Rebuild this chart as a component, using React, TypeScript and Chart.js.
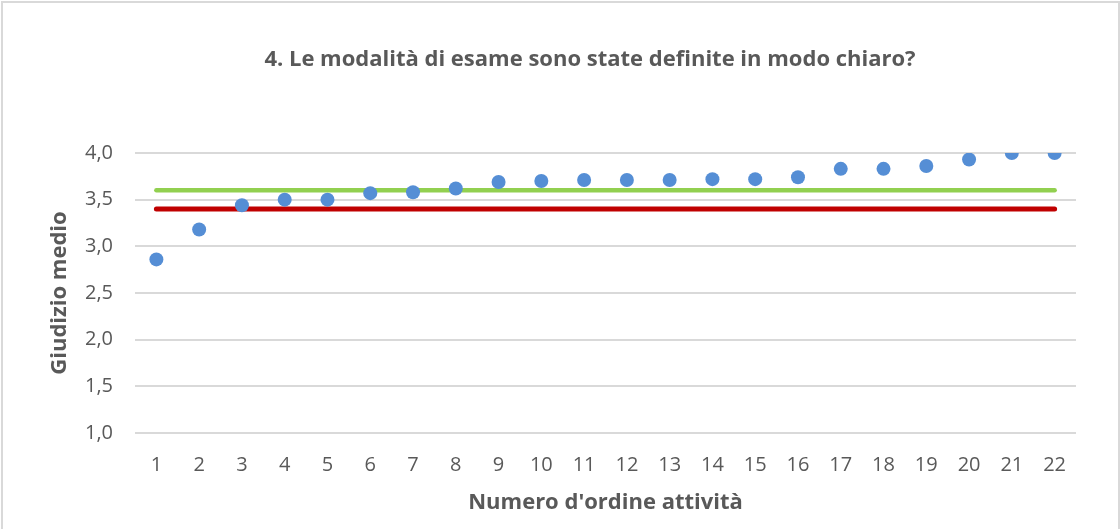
import React, { useEffect, useRef } from "react";
import { Chart, registerables } from "chart.js";

Chart.register(...registerables);

const categories = ["1","2","3","4","5","6","7","8","9","10","11","12","13","14","15","16","17","18","19","20","21","22"];
const giudizioMedio = [2.86, 3.18, 3.44, 3.50, 3.50, 3.57, 3.58, 3.62, 3.69, 3.70, 3.71, 3.71, 3.71, 3.72, 3.72, 3.74, 3.83, 3.83, 3.86, 3.93, 4.00, 4.00];
const sogliaVerde = [3.6, 3.6, 3.6, 3.6, 3.6, 3.6, 3.6, 3.6, 3.6, 3.6, 3.6, 3.6, 3.6, 3.6, 3.6, 3.6, 3.6, 3.6, 3.6, 3.6, 3.6, 3.6];
const sogliaRossa = [3.4, 3.4, 3.4, 3.4, 3.4, 3.4, 3.4, 3.4, 3.4, 3.4, 3.4, 3.4, 3.4, 3.4, 3.4, 3.4, 3.4, 3.4, 3.4, 3.4, 3.4, 3.4];
const yTicks = [1.0, 1.5, 2.0, 2.5, 3.0, 3.5, 4.0];

const titleText = "4. Le modalità di esame sono state definite in modo chiaro?";
const xTitle = "Numero d'ordine attività";
const yTitle = "Giudizio medio";

const FONT = "'Open Sans', sans-serif";
const TXT = "#595959";

export default function App() {
  const ref = useRef<HTMLCanvasElement | null>(null);

  useEffect(() => {
    if (!ref.current) return;
    const titlePlugin = {
      id: "customTitle",
      afterDraw(chart: any) {
        const ctx = chart.ctx;
        ctx.save();
        ctx.font = `bold 22px ${FONT}`;
        ctx.fillStyle = TXT;
        ctx.textAlign = "center";
        ctx.textBaseline = "middle";
        ctx.fillText(titleText, 590, 60);
        ctx.restore();
      },
    };
    const chart = new Chart(ref.current, {
      type: "line",
      data: {
        labels: categories,
        datasets: [
          {
            label: "Giudizio medio",
            data: giudizioMedio,
            showLine: false,
            pointRadius: 7,
            pointHoverRadius: 7,
            pointBackgroundColor: "#558ED5",
            pointBorderColor: "#558ED5",
            pointBorderWidth: 0,
            order: 0,
          },
          {
            label: "Verde",
            data: sogliaVerde,
            borderColor: "#92D050",
            borderWidth: 4.5,
            borderCapStyle: "round",
            pointRadius: 0,
            order: 1,
          },
          {
            label: "Rossa",
            data: sogliaRossa,
            borderColor: "#C00000",
            borderWidth: 5,
            borderCapStyle: "round",
            pointRadius: 0,
            order: 2,
          },
        ],
      },
      options: {
        responsive: false,
        animation: false,
        layout: { padding: { top: 153, right: 44, left: 0, bottom: 0 } },
        plugins: {
          legend: { display: false },
          title: { display: false },
          tooltip: { enabled: false },
        },
        scales: {
          x: {
            type: "category",
            offset: true,
            grid: { display: false, drawTicks: false },
            border: { display: false },
            ticks: { color: TXT, font: { family: FONT, size: 20 }, padding: 20, maxRotation: 0, autoSkip: false },
            title: {
              display: true,
              text: xTitle,
              color: TXT,
              font: { family: FONT, size: 22, weight: "bold" },
              padding: { top: 0, bottom: 13 },
            },
            afterFit(scale: any) {
              scale.height = 96;
            },
          },
          y: {
            min: 1,
            max: 4,
            grid: { color: "#D9D9D9", lineWidth: 2, drawTicks: false },
            border: { display: false },
            afterBuildTicks(scale: any) {
              scale.ticks = yTicks.map((v) => ({ value: v }));
            },
            ticks: {
              color: TXT,
              font: { family: FONT, size: 20 },
              padding: 22,
              callback: (v: any) => Number(v).toFixed(1).replace(".", ","),
            },
            title: {
              display: true,
              text: yTitle,
              color: TXT,
              font: { family: FONT, size: 22, weight: "bold" },
              padding: { top: 47, bottom: 0 },
            },
            afterFit(scale: any) {
              scale.width = 135;
            },
          },
        },
      },
      plugins: [titlePlugin],
    });
    return () => chart.destroy();
  }, []);

  return (
    <div style={{ position: "fixed", left: 0, top: 0, width: 1120, height: 529, background: "#fff", overflow: "hidden" }}>
      <div
        style={{
          position: "absolute",
          left: 1,
          top: 1,
          width: 1119,
          height: 560,
          boxSizing: "border-box",
          border: "2px solid #D9D9D9",
        }}
      />
      <canvas ref={ref} width={1120} height={529} style={{ position: "absolute", left: 0, top: 0, width: 1120, height: 529 }} />
    </div>
  );
}
